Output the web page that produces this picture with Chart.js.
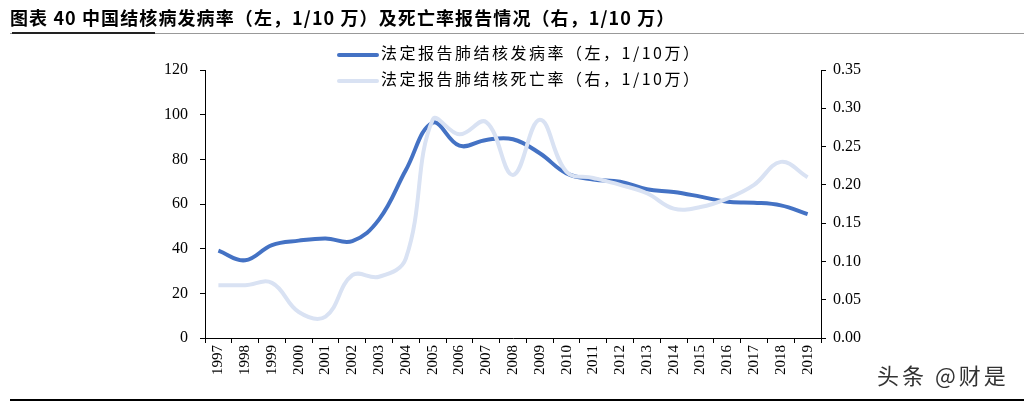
<!DOCTYPE html>
<html>
<head>
<meta charset="utf-8">
<script src="https://cdn.jsdelivr.net/npm/chart.js@4/dist/chart.umd.min.js"></script>
<style>
  html, body { margin: 0; padding: 0; background: #fff; }
  #wrap { position: relative; width: 1024px; height: 404px; overflow: hidden; }
  #chart { position: absolute; left: 0; top: 0; }
  .title { position: absolute; left: 10px; top: 4px; font: bold 18px "Noto Sans CJK SC", sans-serif; color: #000; white-space: nowrap; letter-spacing: 1.1px; }
  .rule-thin { position: absolute; left: 10px; right: 0; top: 33px; height: 1px; background: #999; }
  .rule-thick { position: absolute; left: 12px; width: 143px; top: 32px; height: 2px; background: #222; }
  .rule-bottom { position: absolute; left: 10px; right: 0; top: 399px; height: 2px; background: #000; }
  .legend { position: absolute; left: 337px; font: 16px "Noto Sans CJK SC", "Liberation Serif", serif; color: #000; white-space: nowrap; letter-spacing: 2.5px; }
  .legend span.sw { display: inline-block; width: 42px; height: 4px; vertical-align: middle; margin-right: 2px; border-radius: 2px; }
  .mark { position: absolute; left: 877px; top: 358px; font: 22px "Noto Sans CJK SC", sans-serif; color: #333; white-space: nowrap; letter-spacing: 3px; }
</style>
</head>
<body>
<div id="wrap">
  <canvas id="chart" width="1024" height="404"></canvas>
  <div class="title">图表 40 中国结核病发病率（左，1/10 万）及死亡率报告情况（右，1/10 万）</div>
  <div class="rule-thin"></div>
  <div class="rule-thick"></div>
  <div class="legend" style="top:40px"><span class="sw" style="background:#4472C4"></span>法定报告肺结核发病率（左，1/10万）</div>
  <div class="legend" style="top:66px"><span class="sw" style="background:#D9E2F3"></span>法定报告肺结核死亡率（右，1/10万）</div>
  <div class="mark">头条 @财是</div>
  <div class="rule-bottom"></div>
</div>
<script>
// years on the x axis
const years = ['1997','1998','1999','2000','2001','2002','2003','2004','2005','2006','2007','2008',
               '2009','2010','2011','2012','2013','2014','2015','2016','2017','2018','2019']

// incidence, left axis (per 100k)
const incidence = [39.1, 34.8, 41.6, 43.6, 44.6, 43.4, 53.1, 75.2, 96.4, 86.1, 88.7, 89.0,
                   82.7, 73.7, 71.0, 70.0, 66.6, 65.4, 63.3, 61.0, 60.6, 59.4, 55.5]

// mortality, right axis (per 100k)
const mortality = [0.069, 0.069, 0.072, 0.034, 0.028, 0.082, 0.080, 0.104, 0.285, 0.266, 0.282, 0.213,
                   0.285, 0.217, 0.209, 0.200, 0.189, 0.169, 0.171, 0.182, 0.200, 0.230, 0.210]

const leftTicks = [0, 20, 40, 60, 80, 100, 120]
const rightTicks = [0, 0.05, 0.10, 0.15, 0.20, 0.25, 0.30, 0.35]

const tickFont = { family: '"Liberation Serif", "Times New Roman", serif', size: 16 }

const axisGrid = {
  drawOnChartArea: false,
  drawTicks: true,
  tickLength: 5,
  color: '#000',
  lineWidth: 1
}

new Chart(document.getElementById('chart'), {
  type: 'line',
  data: {
    labels: years,
    datasets: [
      {
        label: '法定报告肺结核死亡率（右，1/10万）',
        data: mortality,
        yAxisID: 'y2',
        borderColor: '#D9E2F3',
        borderWidth: 4,
        pointRadius: 0,
        tension: 0.4,
        fill: false
      },
      {
        label: '法定报告肺结核发病率（左，1/10万）',
        data: incidence,
        yAxisID: 'y',
        borderColor: '#4472C4',
        borderWidth: 4,
        pointRadius: 0,
        tension: 0.4,
        fill: false
      }
    ]
  },
  options: {
    responsive: false,
    animation: false,
    layout: { padding: { top: 70, left: 0, right: 0, bottom: 0 } },
    plugins: {
      legend: { display: false },
      tooltip: { enabled: false }
    },
    scales: {
      x: {
        offset: true,
        grid: Object.assign({}, axisGrid, { offset: true }),
        border: { color: '#000', width: 1 },
        ticks: { font: Object.assign({}, tickFont, { size: 15 }), color: '#000', minRotation: 90, maxRotation: 90, padding: 2 },
        afterFit: s => { s.height = 66 }
      },
      y: {
        position: 'left',
        min: 0,
        max: 120,
        afterBuildTicks: s => { s.ticks = leftTicks.map(v => ({ value: v })) },
        grid: axisGrid,
        border: { color: '#000', width: 1 },
        ticks: { font: tickFont, color: '#000', padding: 12 },
        afterFit: s => { s.width = 205 }
      },
      y2: {
        position: 'right',
        min: 0,
        max: 0.35,
        afterBuildTicks: s => { s.ticks = rightTicks.map(v => ({ value: v })) },
        grid: axisGrid,
        border: { color: '#000', width: 1 },
        ticks: { font: tickFont, color: '#000', padding: 7, callback: v => v.toFixed(2) },
        afterFit: s => { s.width = 1024 - 821 }
      }
    }
  }
})
</script>
</body>
</html>
